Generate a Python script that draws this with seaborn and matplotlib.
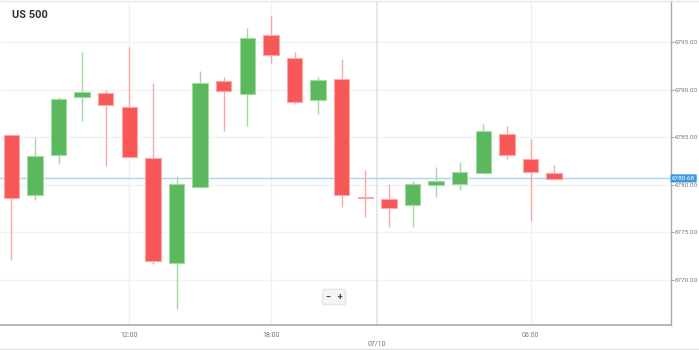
import matplotlib
matplotlib.use("Agg")
import matplotlib.pyplot as plt
import seaborn as sns
import numpy as np
import pandas as pd

# ---- data (hourly candles) ----
opens  = [6785.2, 6778.9, 6783.1, 6789.2, 6789.7, 6788.2, 6782.8, 6771.8, 6779.8, 6790.9,
          6789.6, 6795.8, 6793.4, 6788.9, 6791.1, 6778.7, 6778.5, 6777.9, 6780.0, 6780.1,
          6781.2, 6785.4, 6782.7, 6781.2]
highs  = [6785.2, 6785.0, 6789.2, 6794.0, 6790.0, 6794.5, 6790.7, 6780.9, 6792.0, 6791.4,
          6796.5, 6797.8, 6794.0, 6791.4, 6793.2, 6781.6, 6780.1, 6780.4, 6781.9, 6782.4,
          6786.4, 6786.2, 6784.8, 6782.1]
lows   = [6772.1, 6778.4, 6782.2, 6786.7, 6782.0, 6782.9, 6771.7, 6766.9, 6779.7, 6785.7,
          6786.2, 6792.8, 6788.5, 6787.5, 6777.7, 6776.6, 6775.6, 6775.6, 6778.7, 6779.5,
          6781.2, 6782.7, 6776.2, 6780.6]
closes = [6778.6, 6783.0, 6789.0, 6789.8, 6788.4, 6782.9, 6772.0, 6780.1, 6790.7, 6789.9,
          6795.5, 6793.7, 6788.7, 6791.0, 6778.9, 6778.6, 6777.6, 6780.1, 6780.4, 6781.4,
          6785.7, 6783.1, 6781.4, 6780.6]
tick_pos = [5, 11, 22]
tick_labels = ["12:00", "18:00", "06:00"]
date_pos = 15.5
date_label = "07/10"
y_ticks = [6770, 6775, 6780, 6785, 6790, 6795]
last_price = 6780.68
title = "US 500"

df = pd.DataFrame({"open": opens, "high": highs, "low": lows, "close": closes})
df["x"] = np.arange(len(df))
df["up"] = df["close"] >= df["open"]

sns.set_style("white")
plt.rcParams["font.family"] = ["Roboto", "DejaVu Sans"]

fig = plt.figure(figsize=(6.99, 3.5), dpi=100)
ax = fig.add_axes([0, 25 / 350, 670.7 / 699, 324 / 350])

GREEN = "#5cb85c"
RED = "#f75757"
GREEN_W = "#a3d9a3"
RED_W = "#f9a8a8"

# grid
for y in y_ticks:
    ax.axhline(y, color="#f2f2f2", lw=1, zorder=0)
for p in tick_pos:
    ax.axvline(p, color="#f0f0f0", lw=1, zorder=0)
ax.axvline(date_pos, color="#e3e3e3", lw=1.2, zorder=0)

# wicks
for up, sub in df.groupby("up"):
    ax.vlines(sub["x"], sub["low"], sub["high"], color=GREEN_W if up else RED_W,
              lw=1, zorder=2)
# bodies
for up, sub in df.groupby("up"):
    bottom = np.minimum(sub["open"], sub["close"])
    height = np.maximum(np.abs(sub["close"] - sub["open"]), 0.15)
    ax.bar(sub["x"], height, bottom=bottom, width=0.65,
           color=GREEN if up else RED, edgecolor=GREEN_W if up else RED_W,
           linewidth=0.8, zorder=3)

# last price line
ax.axhline(last_price, color="#acd5f2", lw=1, zorder=1)

ax.set_xlim(-0.48, 27.94)
ax.set_ylim(6765.24, 6799.36)

ax.yaxis.tick_right()
ax.set_yticks(y_ticks)
ax.set_yticklabels([f"{v:.2f}" for v in y_ticks], fontsize=4.6, color="#777777")
ax.tick_params(axis="y", direction="out", length=2, width=0.6, color="#999999", pad=1)

ax.set_xticks(tick_pos)
ax.set_xticklabels(tick_labels, fontsize=5, color="#777777")
ax.set_xticks([date_pos], minor=True)
ax.set_xticklabels([date_label], minor=True, fontsize=5, color="#777777")
ax.tick_params(axis="x", which="major", direction="out", length=2, width=0.8,
               color="#888888", pad=3)
ax.tick_params(axis="x", which="minor", direction="out", length=4, width=0.6,
               color="#c8c8c8", pad=7)

for s in ["top", "left"]:
    ax.spines[s].set_visible(False)
ax.spines["right"].set_color("#aaaaaa")
ax.spines["right"].set_linewidth(1)
ax.spines["bottom"].set_color("#aaaaaa")
ax.spines["bottom"].set_linewidth(1.2)

# price label
ax.text(1.002, last_price, f"{last_price:.2f}", transform=ax.get_yaxis_transform(),
        fontsize=4.6, color="white", va="center", ha="left",
        bbox=dict(boxstyle="round,pad=0.25,rounding_size=0.2", fc="#3b9be0", ec="none"))

# title
fig.text(12 / 699, 1 - 15 / 350, title, fontsize=8, fontweight="bold",
         color="#333333", va="center", ha="left")

# zoom controls
fig.text(334 / 699, 1 - 297 / 350, "−   +", fontsize=6.5, fontweight="bold",
         color="#444444", va="center", ha="center",
         bbox=dict(boxstyle="round,pad=0.35,rounding_size=0.2", fc="#f4f4f4", ec="#e6e6e6"))

# frame lines
fig.add_artist(plt.Line2D([0, 1], [1 - 1 / 350] * 2, color="#e6e6e6", lw=1,
                          transform=fig.transFigure))
fig.add_artist(plt.Line2D([0, 1], [1 - 348.5 / 350] * 2, color="#e2e2e2", lw=1,
                          transform=fig.transFigure))

fig.savefig("out.png", dpi=100)
